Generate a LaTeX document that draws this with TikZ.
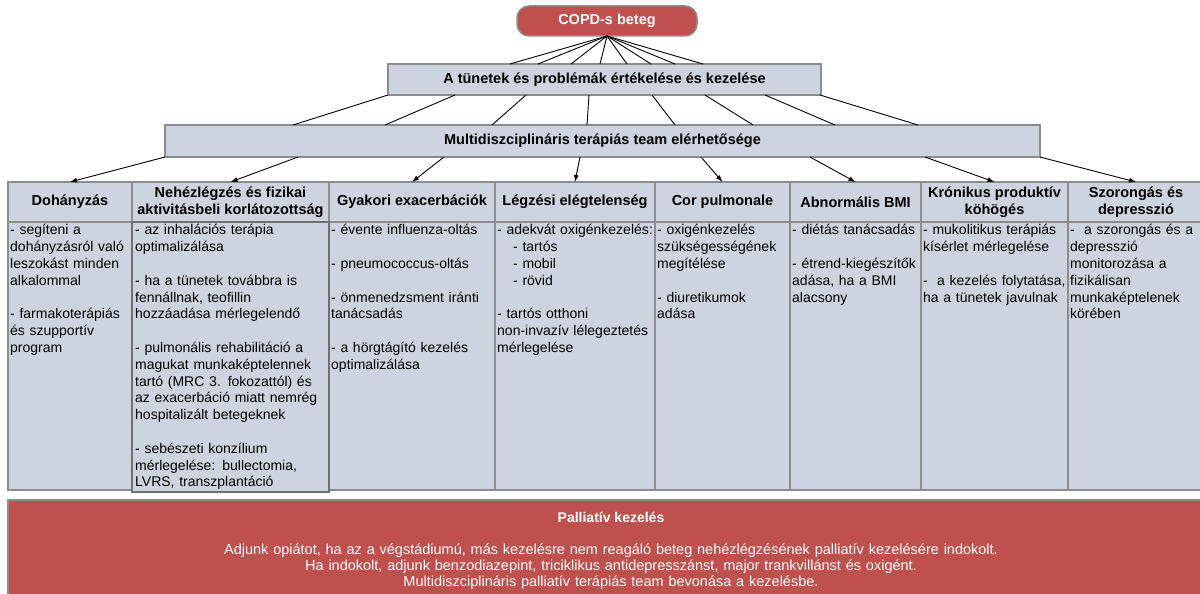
\documentclass[tikz,border=0pt]{standalone}
\usepackage{fontspec}
\setmainfont{Liberation Sans}
\usetikzlibrary{arrows.meta,calc}
\definecolor{boxfill}{HTML}{CDD4E0}
\definecolor{boxline}{HTML}{8C8C8C}
\definecolor{alarm}{HTML}{C0504D}
\newcommand{\emptyrow}{\\[16.8pt]}
\begin{document}
\begin{tikzpicture}[x=1pt,y=-1pt,
  panel/.style={draw=boxline, line width=1.5pt, fill=boxfill, inner sep=0pt, outer sep=0pt},
  titletext/.style={font=\fontsize{14.5}{16.8}\selectfont\bfseries, align=center},
  colbody/.style={panel, anchor=north, minimum height=268pt},
  bodytext/.style={anchor=north west, inner sep=0pt, text width=200pt, align=left,
    font=\fontsize{14}{16.8}\selectfont},
  link/.style={draw=black, line width=0.9pt},
  arrowlink/.style={link, -{Latex[length=7pt,width=5pt]}},
]
\useasboundingbox (0,0) rectangle (1200,594);

% top of the hierarchy
\node[panel, titletext, fill=alarm, rounded corners=12pt, text=white,
      minimum width=180pt, minimum height=30pt] (copd) at (607,21) {COPD-s beteg};
\node[panel, titletext, minimum width=433pt, minimum height=31pt] (eval) at (604.5,79.5)
  {A tünetek és problémák értékelése és kezelése};
\node[panel, titletext, minimum width=875pt, minimum height=32pt] (team) at (602.5,141)
  {Multidiszciplináris terápiás team elérhetősége};

% column headers
\node[panel, titletext, minimum width=124pt, minimum height=40pt] (h1) at (70,202) {Dohányzás};
\node[panel, titletext, minimum width=197pt, minimum height=40pt] (h2) at (230.5,202)
  {Nehézlégzés és fizikai\\aktivitásbeli korlátozottság};
\node[panel, titletext, minimum width=166pt, minimum height=40pt] (h3) at (412,202) {Gyakori exacerbációk};
\node[panel, titletext, minimum width=160pt, minimum height=40pt] (h4) at (575,202) {Légzési elégtelenség};
\node[panel, titletext, minimum width=135pt, minimum height=40pt] (h5) at (722.5,202) {Cor pulmonale};
\node[panel, titletext, minimum width=131pt, minimum height=40pt] (h6) at (855.5,202) {Abnormális BMI};
\node[panel, titletext, minimum width=147pt, minimum height=40pt] (h7) at (994.5,202)
  {Krónikus produktív\\köhögés};
\node[panel, titletext, minimum width=136pt, minimum height=40pt] (h8) at (1136,202)
  {Szorongás és\\depresszió};

% column bodies
\node[colbody, minimum width=124pt] (b1) at (h1.south) {};
\node[colbody, minimum width=166pt] (b3) at (h3.south) {};
\node[colbody, minimum width=160pt] (b4) at (h4.south) {};
\node[colbody, minimum width=135pt] (b5) at (h5.south) {};
\node[colbody, minimum width=131pt] (b6) at (h6.south) {};
\node[colbody, minimum width=147pt] (b7) at (h7.south) {};
\node[colbody, minimum width=136pt] (b8) at (h8.south) {};
\node[colbody, minimum width=197pt, minimum height=270pt, draw=boxline!80!black] (b2) at (h2.south) {};

% texts of the columns
\node[bodytext] at ($(b1.north west)+(2,1)$)
  {\strut- segíteni a\\dohányzásról való\\leszokást minden\\alkalommal\emptyrow
   - farmakoterápiás\\és szupportív\\program};
\node[bodytext] at ($(b2.north west)+(3,1)$)
  {\strut- az inhalációs terápia\\optimalizálása\emptyrow
   - ha a tünetek továbbra is\\fennállnak, teofillin\\hozzáadása mérlegelendő\emptyrow
   - pulmonális rehabilitáció a\\magukat munkaképtelennek\\tartó (MRC 3. fokozattól) és\\az exacerbáció miatt nemrég\\hospitalizált betegeknek\emptyrow
   - sebészeti konzílium\\mérlegelése: bullectomia,\\LVRS, transzplantáció};
\node[bodytext] at ($(b3.north west)+(2,1)$)
  {\strut- évente influenza-oltás\emptyrow
   - pneumococcus-oltás\emptyrow
   - önmenedzsment iránti\\tanácsadás\emptyrow
   - a hörgtágító kezelés\\optimalizálása};
\node[bodytext] at ($(b4.north west)+(2,1)$)
  {\strut- adekvát oxigénkezelés:\\\hspace*{16pt}- tartós\\\hspace*{16pt}- mobil\\\hspace*{16pt}- rövid\emptyrow
   - tartós otthoni\\non-invazív lélegeztetés\\mérlegelése};
\node[bodytext] at ($(b5.north west)+(2,1)$)
  {\strut- oxigénkezelés\\szükségességének\\megítélése\emptyrow
   - diuretikumok\\adása};
\node[bodytext] at ($(b6.north west)+(2,1)$)
  {\strut- diétás tanácsadás\emptyrow
   - étrend-kiegészítők\\adása, ha a BMI\\alacsony};
\node[bodytext] at ($(b7.north west)+(2,1)$)
  {\strut- mukolitikus terápiás\\kísérlet mérlegelése\emptyrow
   -\ \ a kezelés folytatása,\\ha a tünetek javulnak};
\node[bodytext] at ($(b8.north west)+(2,1)$)
  {\strut-\ \ a szorongás és a\\depresszió\\monitorozása a\\fizikálisan\\munkaképtelenek\\körében};

% palliative care band
\node[panel, fill=alarm, anchor=north west, minimum width=1206pt, minimum height=100pt] (pal) at (8,500) {};
\node[text=white, font=\fontsize{14}{16}\selectfont\bfseries] (paltitle) at ($(pal.north)+(0,17)$) {Palliatív kezelés};
\node[text=white, anchor=north, inner sep=0pt, text width=1100pt, align=center,
      font=\fontsize{14.5}{16}\selectfont] (paltext) at ($(pal.north)+(0,43)$)
  {\strut Adjunk opiátot, ha az a végstádiumú, más kezelésre nem reagáló beteg nehézlégzésének palliatív kezelésére indokolt.\\
   Ha indokolt, adjunk benzodiazepint, triciklikus antidepresszánst, major trankvillánst és oxigént.\\
   Multidiszciplináris palliatív terápiás team bevonása a kezelésbe.};

% connectors
\foreach \dx in {122,150,183,212,239,263,287,315}
  \draw[link] (copd.south) -- ($(eval.north west)+(\dx,0)$);
\foreach \a/\b in {0/128, 67/220, 138/327, 201/422, 264/510, 317/588, 377/670, 432/753}
  \draw[link] ($(eval.south west)+(\a,0)$) -- ($(team.north west)+(\b,0)$);
\foreach \a/\h in {0/h1, 133/h2, 279/h3, 415/h4, 536/h5, 645/h6, 760/h7, 875/h8}
  \draw[arrowlink] ($(team.south west)+(\a,0)$) -- (\h.north);
\end{tikzpicture}
\end{document}
